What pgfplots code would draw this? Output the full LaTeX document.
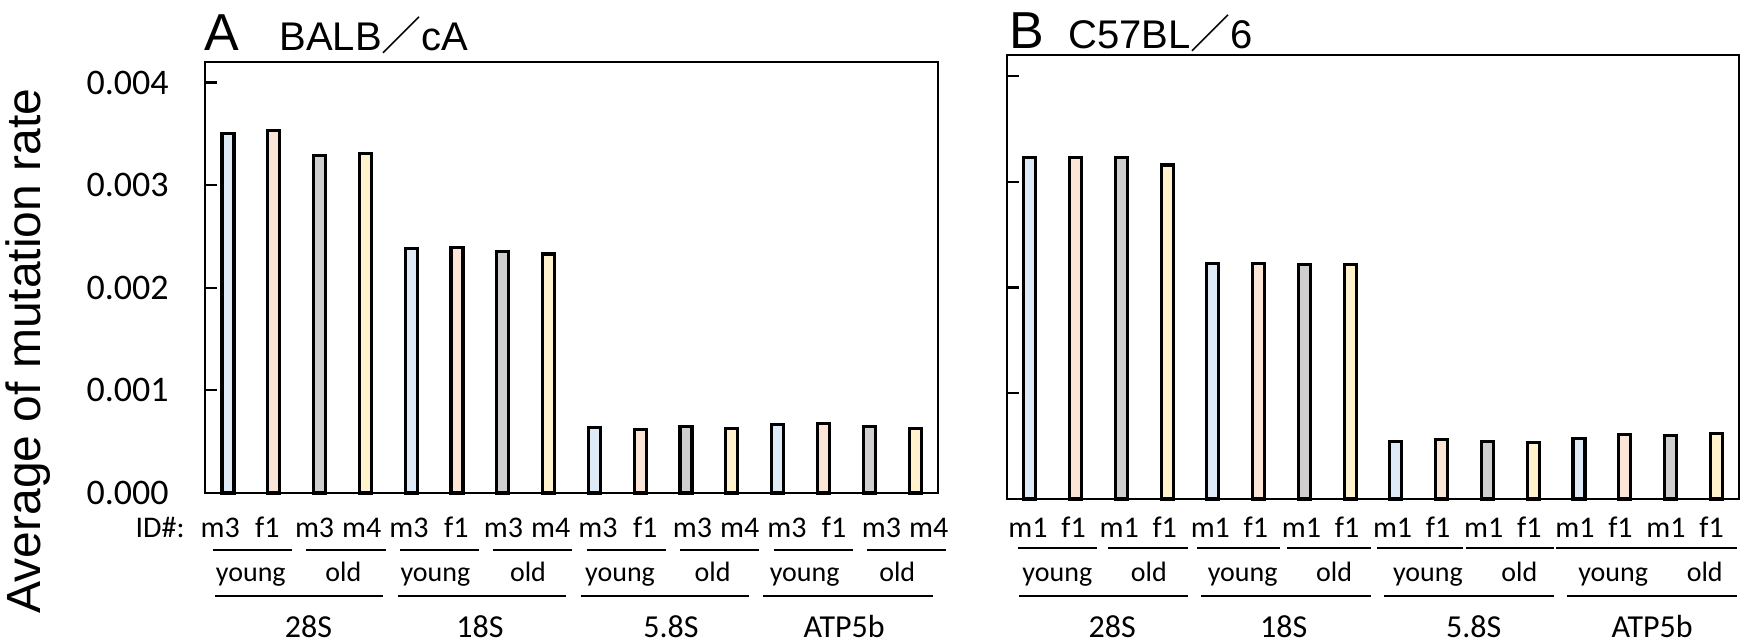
\documentclass[border=0pt]{standalone}
\usepackage{fontspec}
\setmainfont{Carlito}
\newfontfamily\arial{Liberation Sans}
\newfontfamily\cjk{Noto Sans CJK JP}
\usepackage{pgfplots}
\pgfplotsset{compat=1.18}
\definecolor{cblue}{HTML}{DEEBF7}
\definecolor{cpeach}{HTML}{FBE5D6}
\definecolor{cgray}{HTML}{D0CECE}
\definecolor{cyellow}{HTML}{FFF2CC}
\pgfplotsset{
  mybars/.style={
    scale only axis, ybar, enlargelimits=false,
    xmin=-0.5, xmax=15.5, ymin=0, ymax=0.0042,
    xtick=\empty, ytick={0,0.001,0.002,0.003,0.004},
    ytick pos=left, tick align=inside, major tick length=6pt,
    every tick/.style={black, line width=1.1pt},
    axis line style={line width=1.2pt},
    scaled y ticks=false,
    /pgf/number format/assume math mode=true,
    yticklabel style={font=\fontsize{18pt}{18pt}\selectfont, inner sep=0pt, xshift=-18pt,
      /pgf/number format/.cd, fixed, fixed zerofill, precision=3},
    clip=false,
  },
  b/.style={bar width=6pt, bar shift=0pt, draw=black, line width=1.6pt, fill=#1},
}
\newcommand{\AX}[1]{(102.5+366.5*((#1)+0.5)/16)}
\newcommand{\BX}[1]{(503.5+366*((#1)+0.5)/16)}
\begin{document}
\begin{tikzpicture}
\path[use as bounding box] (0,0) rectangle (874pt,-321.5pt);
% Panel A
\begin{axis}[mybars, at={(102.5pt,-246.5pt)}, anchor=south west, width=366.5pt, height=215.5pt]
\addplot[b=cblue] coordinates {(0,0.00350) (4,0.00238) (8,0.00064) (12,0.00067)};
\addplot[b=cpeach] coordinates {(1,0.00353) (5,0.00239) (9,0.00062) (13,0.00068)};
\addplot[b=cgray] coordinates {(2,0.00329) (6,0.00235) (10,0.00065) (14,0.00065)};
\addplot[b=cyellow] coordinates {(3,0.00331) (7,0.00233) (11,0.00063) (15,0.00063)};
\end{axis}
% Panel B
\begin{axis}[mybars, at={(503.5pt,-249.5pt)}, anchor=south west, width=366pt, height=222pt, yticklabels={}]
\addplot[b=cblue] coordinates {(0,0.00323) (4,0.00223) (8,0.000546) (12,0.000571)};
\addplot[b=cpeach] coordinates {(1,0.00323) (5,0.00223) (9,0.000565) (13,0.000612)};
\addplot[b=cgray] coordinates {(2,0.00323) (6,0.00222) (10,0.000546) (14,0.000603)};
\addplot[b=cyellow] coordinates {(3,0.00316) (7,0.00222) (11,0.000533) (15,0.000618)};
\end{axis}
% titles
\node[anchor=base west, inner sep=0pt, font=\arial\fontsize{26pt}{26pt}\selectfont] at (102pt,-25pt) {A};
\node[anchor=base west, inner sep=0pt, font=\arial\fontsize{20pt}{20pt}\selectfont] at (139.5pt,-25pt) {BALB{\cjk ／}cA};
\node[anchor=base west, inner sep=0pt, font=\arial\fontsize{26pt}{26pt}\selectfont] at (504.5pt,-24pt) {B};
\node[anchor=base west, inner sep=0pt, font=\arial\fontsize{20pt}{20pt}\selectfont] at (534pt,-24pt) {C57BL{\cjk ／}6};
% y label
\node[rotate=90, inner sep=0pt, font=\arial\fontsize{24pt}{24pt}\selectfont] at (14pt,-175.5pt) {Average of mutation rate};
% ID#
\node[anchor=base east, inner sep=0pt, font=\fontsize{15pt}{15pt}\selectfont] at (92.5pt,-268.75pt) {ID\#:};
% Panel A labels
\foreach \i/\t in {0/m3,1/f1,2/m3,3/m4,4/m3,5/f1,6/m3,7/m4,8/m3,9/f1,10/m3,11/m4,12/m3,13/f1,14/m3,15/m4}
  \node[anchor=base, inner sep=0pt, font=\fontsize{15pt}{15pt}\selectfont] at ({\AX{-0.17+1.031*\i}*1pt},-268.75pt) {\t};
\foreach \k in {0,...,7}
  \draw[line width=1.2pt] ({\AX{-0.33+2.04*\k}*1pt},-275pt) -- ({\AX{1.4+2.04*\k}*1pt},-275pt);
\foreach \g in {0,...,3}{
  \draw[line width=1.2pt] ({\AX{-0.28+3.99*\g}*1pt},-298pt) -- ({\AX{3.38+4.0*\g}*1pt},-298pt);
  \node[anchor=base, inner sep=0pt, font=\fontsize{14pt}{14pt}\selectfont] at ({\AX{0.5+4.03*\g}*1pt},-290.5pt) {young};
  \node[anchor=base, inner sep=0pt, font=\fontsize{14pt}{14pt}\selectfont] at ({\AX{2.52+4.03*\g}*1pt},-290.5pt) {old};
}
\foreach \u/\t in {1.76/28S,5.5/18S,9.67/5.8S,13.45/ATP5b}
  \node[anchor=base, inner sep=0pt, font=\fontsize{16pt}{16pt}\selectfont] at ({\AX{\u}*1pt},-318.5pt) {\t};
% Panel B labels
\foreach \i/\t in {0/m1,1/f1,2/m1,3/f1,4/m1,5/f1,6/m1,7/f1,8/m1,9/f1,10/m1,11/f1,12/m1,13/f1,14/m1,15/f1}
  \node[anchor=base, inner sep=0pt, font=\fontsize{15pt}{15pt}\selectfont] at ({\BX{-0.04+0.996*\i}*1pt},-268.75pt) {\t};
\foreach \k in {0,...,7}
  \draw[line width=1.2pt] ({\BX{-0.26+1.96*\k}*1pt},-274pt) -- ({\BX{1.46+2.0*\k}*1pt},-274pt);
\foreach \g in {0,...,3}{
  \draw[line width=1.2pt] ({\BX{-0.24+3.99*\g}*1pt},-298pt) -- ({\BX{3.46+4.0*\g}*1pt},-298pt);
  \node[anchor=base, inner sep=0pt, font=\fontsize{14pt}{14pt}\selectfont] at ({\BX{0.6+4.05*\g}*1pt},-290.5pt) {young};
  \node[anchor=base, inner sep=0pt, font=\fontsize{14pt}{14pt}\selectfont] at ({\BX{2.6+4.05*\g}*1pt},-290.5pt) {old};
}
\foreach \u/\t in {1.8/28S,5.55/18S,9.7/5.8S,13.6/ATP5b}
  \node[anchor=base, inner sep=0pt, font=\fontsize{16pt}{16pt}\selectfont] at ({\BX{\u}*1pt},-318.5pt) {\t};
\end{tikzpicture}
\end{document}
